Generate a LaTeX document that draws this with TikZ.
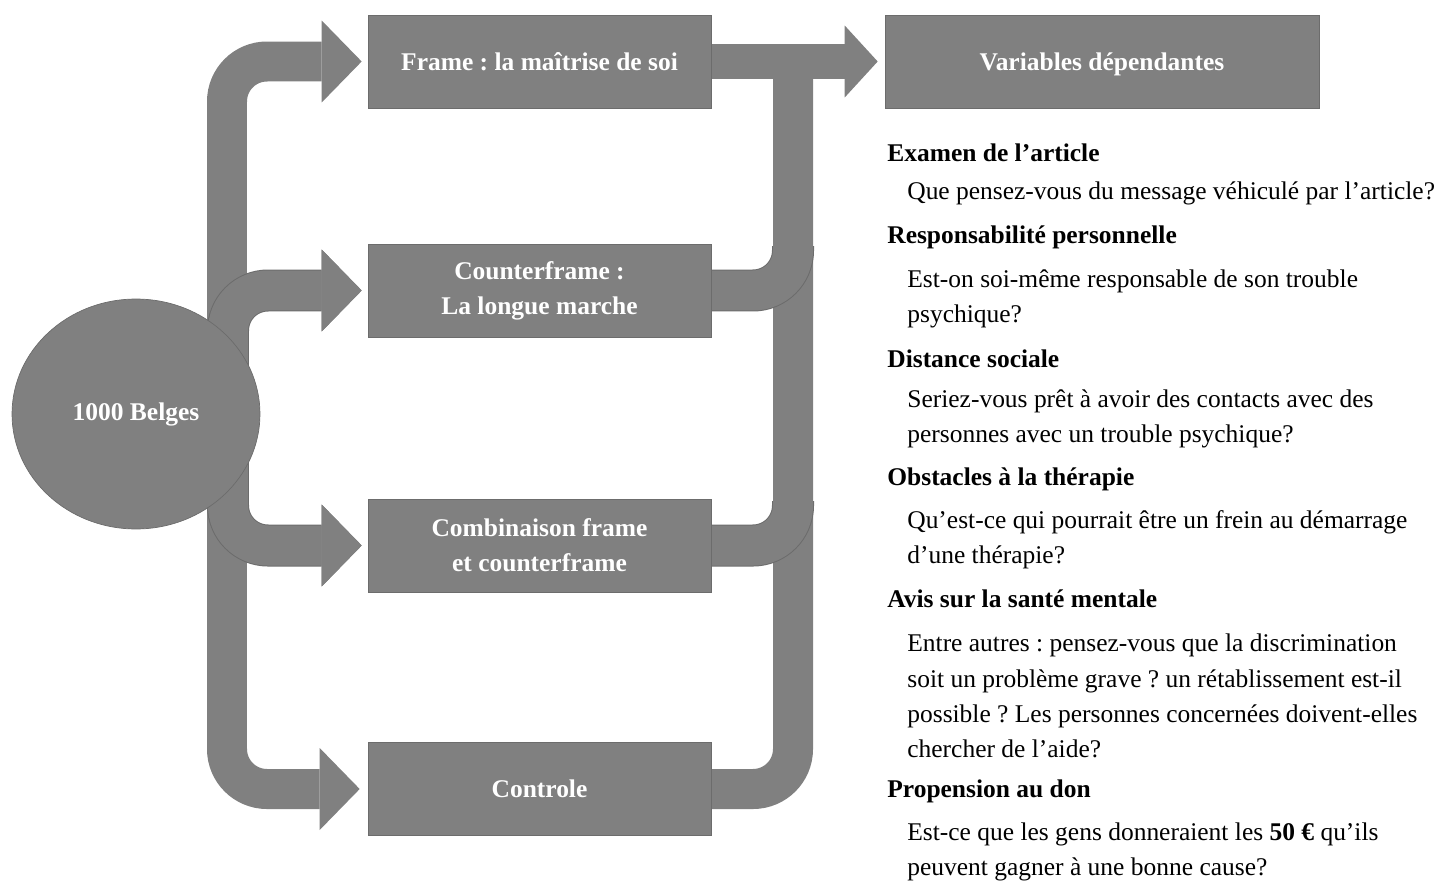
\documentclass[tikz,border=0pt]{standalone}
\usepackage{fontspec}
\setmainfont{Liberation Serif}
\usetikzlibrary{arrows.meta,shapes.geometric}

\definecolor{boxgray}{RGB}{128,128,128}
\definecolor{edgegray}{RGB}{108,108,108}
\newcommand{\diagfont}{\fontsize{14.5}{20}\selectfont}
\frenchspacing

\pgfdeclarelayer{background}
\pgfsetlayers{background,main}

\tikzset{
    groupbox/.style={fill=boxgray, draw=edgegray, line width=0.4pt, text=white,
        font=\diagfont\bfseries, align=center, minimum width=6.86cm, minimum height=1.86cm},
    fat/.style={draw=boxgray, line width=0.8cm, rounded corners=0.8cm},
    fatrim/.style={fat, preaction={draw=edgegray, line width=0.84cm}},
    fathead/.style={-{Triangle[length=0.8cm, width=1.64cm, line width=0pt]}},
    heading/.style={anchor=west, inner sep=0pt, font=\diagfont\bfseries},
    question/.style={anchor=west, inner sep=0pt, align=left, font=\diagfont}
}

\begin{document}
\begin{tikzpicture}[x=0.02cm, y=-0.02cm]
    \useasboundingbox (0,0) rectangle (1453,882);

    % Sample
    \node[ellipse, fill=boxgray, draw=edgegray, line width=0.4pt, text=white, font=\diagfont\bfseries,
        minimum width=4.96cm, minimum height=4.6cm, inner sep=0pt] (belges) at (136,414) {1000 Belges};

    % Conditions
    \node[groupbox] (frame) at (539.5,61.5) {Frame : la maîtrise de soi};
    \node[groupbox] (counter) at (539.5,290.5) {Counterframe :\\La longue marche};
    \node[groupbox] (combi) at (539.5,545.5) {Combinaison frame\\et counterframe};
    \node[groupbox] (controle) at (539.5,789) {Controle};

    % Outcome
    \node[groupbox, minimum width=8.68cm, text depth=-0.1cm] (vardep) at (1102,61.5) {Variables dépendantes};

    % Arrows
    \begin{pgfonlayer}{background}
        \draw[fat, fathead] (227,414) |- ([xshift=-0.12cm]frame.west);
        \draw[fat, fathead] (227,414) |- ([xshift=-0.16cm]controle.west);
        \draw[fatrim, fathead] (228,380) |- ([xshift=-0.12cm]counter.west);
        \draw[fatrim, fathead] (228,450) |- ([xshift=-0.12cm]combi.west);

        \draw[fat] (793,57) |- (controle.east);
        \draw[fatrim] (counter.east) -| (793,246);
        \draw[fatrim] (combi.east) -| (793,501);
        \draw[fat, line width=0.7cm, -{Triangle[length=0.66cm, width=1.44cm, line width=0pt]}]
            (frame.east) -- ([xshift=-0.14cm]vardep.west);
    \end{pgfonlayer}

    % Measures
    \node[heading] (h1) at (887,153) {Examen de l’article};
    \node[question] (q1) at (907,193) {Que pensez-vous du message véhiculé par l’article?};
    \node[heading] (h2) at (887,237) {Responsabilité personnelle};
    \node[question] (q2) at (907,298.5) {Est-on soi-même responsable de son trouble\\psychique?};
    \node[heading] (h3) at (887,359) {Distance sociale};
    \node[question] (q3) at (907,419) {Seriez-vous prêt à avoir des contacts avec des\\personnes avec un trouble psychique?};
    \node[heading] (h4) at (887,479) {Obstacles à la thérapie};
    \node[question] (q4) at (907,539.5) {Qu’est-ce qui pourrait être un frein au démarrage\\d’une thérapie?};
    \node[heading] (h5) at (887,599) {Avis sur la santé mentale};
    \node[question] (q5) at (907,696) {Entre autres : pensez-vous que la discrimination\\soit un problème grave ? un rétablissement est-il\\possible ? Les personnes concernées doivent-elles\\chercher de l’aide?};
    \node[heading] (h6) at (887,791) {Propension au don};
    \node[question] (q6) at (907,852) {Est-ce que les gens donneraient les \textbf{50 €} qu’ils\\peuvent gagner à une bonne cause?};
\end{tikzpicture}
\end{document}
